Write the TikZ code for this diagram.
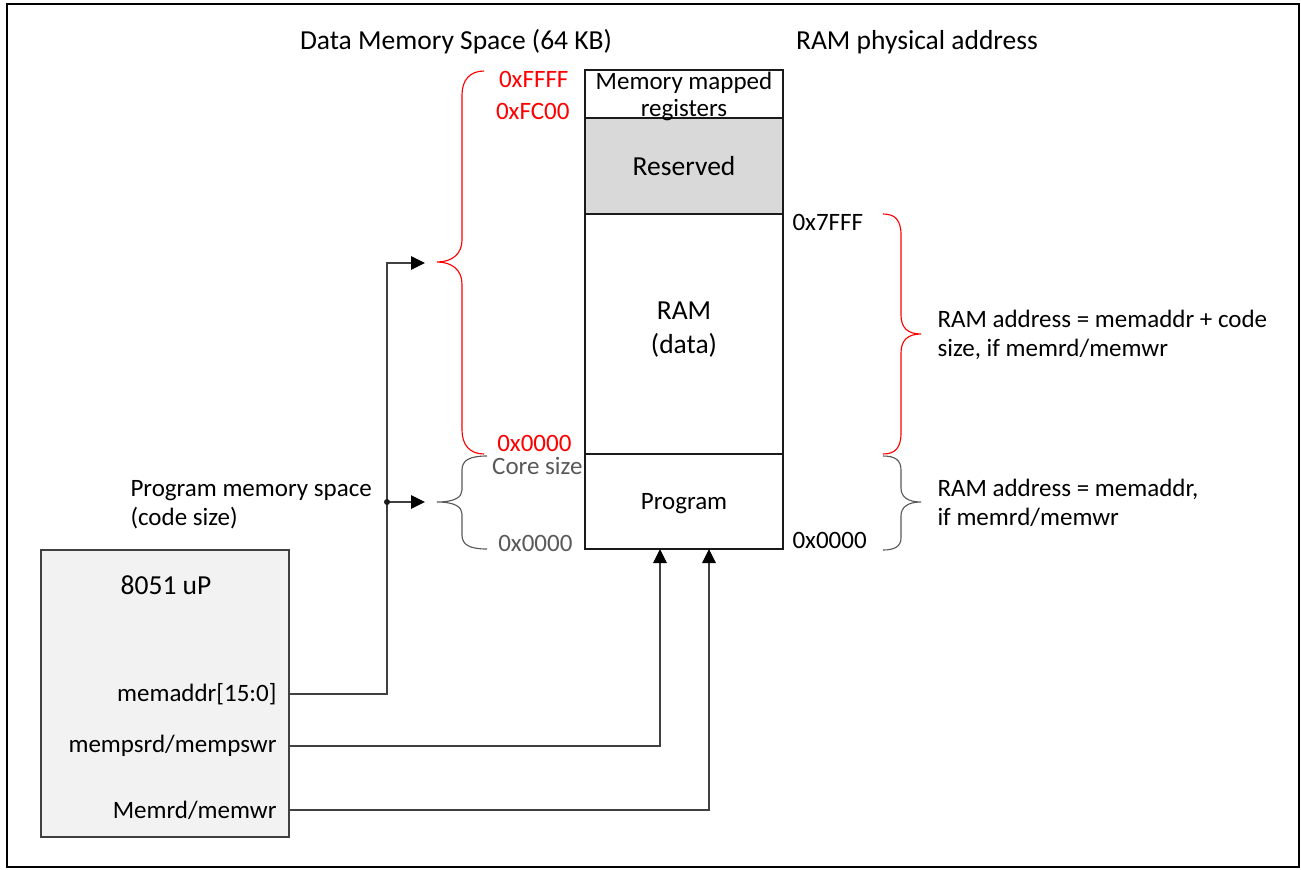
\documentclass[tikz,border=0pt]{standalone}
\usepackage{fontspec}
\setmainfont{Carlito}
\usetikzlibrary{arrows.meta,positioning}
\definecolor{memInk}{HTML}{1A1A1A}
\definecolor{memWire}{HTML}{404040}
\definecolor{memMuted}{HTML}{595959}
\definecolor{memRed}{HTML}{FF0000}
\definecolor{memResFill}{HTML}{D9D9D9}
\definecolor{memCpuFill}{HTML}{F2F2F2}
\tikzset{
  mem/big/.style={font=\fontsize{11}{11.6}\selectfont},
  mem/small/.style={font=\fontsize{10}{11.6}\selectfont},
  mem/block/.style={draw=memInk, line width=0.45pt, inner sep=0pt,
    outer sep=0pt, minimum width=79.2pt, align=center},
  mem/text/.style={inner sep=0pt, align=center},
  mem/addr/.style={mem/small, inner sep=0pt},
  mem/note/.style={mem/small, align=left, inner sep=0pt, anchor=west},
  mem/wire/.style={draw=memWire, line width=0.45pt},
  mem/arrow/.style={mem/wire,
    -{Triangle[length=5.6pt,width=5.4pt,color=black]}},
  mem/brace/.style={line width=0.45pt},
}

\begin{document}
\begin{tikzpicture}[x=0.4pt, y=-0.4pt,
    regs/.style={mem/block, minimum height=19.2pt},
    resv/.style={mem/block, minimum height=38.4pt, fill=memResFill},
    ram/.style={mem/block, minimum height=96pt},
    prog/.style={mem/block, minimum height=38pt},
    cpu/.style={draw=memWire, line width=0.45pt, fill=memCpuFill,
      minimum width=99.2pt, minimum height=114.8pt, inner sep=0pt},
    port/.style={mem/small, inner sep=0pt, anchor=east},
    title/.style={mem/big, inner sep=0pt},
]
\useasboundingbox (0,0) rectangle (1301,869);
\draw[line width=0.8pt] (7,4) rectangle (1299,867);

% ===== Column headers =====
\node[title] (dtitle) at (456,42) {Data Memory Space (64 KB)};
\node[title] (rtitle) at (917,42) {RAM physical address};

% ===== Memory column =====
\node[regs] (regs)  at (684,94)    {};
\node[resv] (resv)  at (684,166)   {};
\node[ram]  (ram)   at (684,334)   {};
\node[prog] (prog)  at (684,501.5) {};
\node[mem/text, font=\fontsize{10}{10.9}\selectfont] (regs_t) at (684,96.5) {Memory mapped\\registers};
\node[mem/text, mem/big] (resv_t) at (684,166) {Reserved};
\node[mem/text, font=\fontsize{11}{13.6}\selectfont] (ram_t) at (684,330) {RAM\\(data)};
\node[mem/text, mem/small] (prog_t) at (684,504) {Program};

% ===== Data space addresses (left) =====
\node[mem/addr, anchor=east, text=memRed]   (a_ffff) at (569,79)  {0xFFFF};
\node[mem/addr, anchor=east, text=memRed]   (a_fc00) at (570,111) {0xFC00};
\node[mem/addr, anchor=east, text=memRed]   (a_dlo)  at (572,443) {0x0000};
\node[mem/addr, anchor=east, text=memMuted] (a_core) at (583,466) {Core size};
\node[mem/addr, anchor=east, text=memMuted] (a_plo)  at (573,543) {0x0000};

% ===== Physical addresses (right) =====
\node[mem/addr, anchor=west] (p_hi) at (792,222) {0x7FFF};
\node[mem/addr, anchor=west] (p_lo) at (792,540) {0x0000};

% Braces
\draw[mem/brace, memRed] (484,71) .. controls (470,71) and (462,80) .. (462,95)
  -- (462,240) .. controls (462,254) and (452,262) .. (437,262)
  .. controls (452,262) and (462,270) .. (462,284)
  -- (462,430) .. controls (462,445) and (470,454) .. (484,454);
\draw[mem/brace, memMuted] (487,456) .. controls (470,456) and (462,460) .. (462,470)
  -- (462,490) .. controls (462,497) and (455,502) .. (437,502)
  .. controls (455,502) and (462,507) .. (462,514)
  -- (462,535) .. controls (462,545) and (470,549) .. (487,549);
\draw[mem/brace, memRed] (883,214) .. controls (895,214) and (901,220) .. (901,235)
  -- (901,315) .. controls (901,328) and (908,334) .. (921,334)
  .. controls (908,334) and (901,340) .. (901,353)
  -- (901,433) .. controls (901,448) and (895,454) .. (883,454);
\draw[mem/brace, memMuted] (883,456) .. controls (895,456) and (901,460) .. (901,470)
  -- (901,488) .. controls (901,497) and (908,502) .. (921,502)
  .. controls (908,502) and (901,507) .. (901,516)
  -- (901,538) .. controls (901,546) and (895,550) .. (883,550);

\node[mem/note] (n_data) at (937,335) {RAM address = memaddr + code\\size, if memrd/memwr};
\node[mem/note] (n_prog) at (937,503) {RAM address = memaddr,\\if memrd/memwr};
\node[mem/note] (n_space) at (130,505) {Program memory space\\(code size)};

% ===== 8051 core =====
\node[cpu] (cpu) at (165,693.5) {};
\node[mem/big] (cpu_lbl) at (166,585) {8051 uP};

\coordinate (p_addr) at (289,694);
\coordinate (p_ps)   at (289,746);
\coordinate (p_rw)   at (289,810);
\node[port, left=4.8pt of p_addr] (l_addr) {memaddr[15:0]};
\node[port, left=4.8pt of p_ps]   (l_ps)   {mempsrd/mempswr};
\node[port, left=4.8pt of p_rw]   (l_rw)   {Memrd/memwr};

% ===== Buses =====
\coordinate (jn)     at (387,502);
\coordinate (datain) at (425,263);
\coordinate (progin) at (425,502);
\draw[mem/arrow] (p_addr) -| (jn |- datain) -- (datain);
\draw[mem/arrow] (jn) -- (progin);
\fill[memInk] (jn) circle (1.2pt);
\draw[mem/arrow] (p_ps) -| ([xshift=-9.6pt]prog.south);
\draw[mem/arrow] (p_rw) -| ([xshift=10pt]prog.south);

\end{tikzpicture}
\end{document}
